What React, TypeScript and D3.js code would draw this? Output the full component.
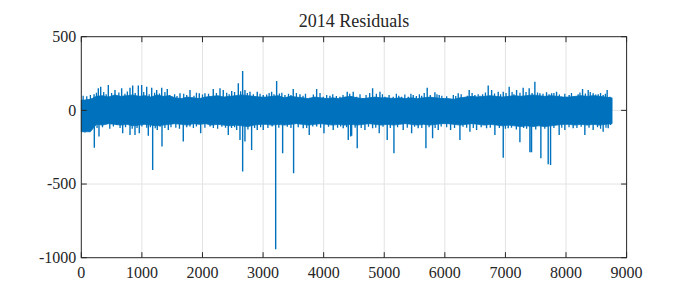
import React from "react";
import * as d3 from "d3";

// ---- data ----
const title = "2014 Residuals";
const xTicks = [0, 1000, 2000, 3000, 4000, 5000, 6000, 7000, 8000, 9000];
const yTicks = [-1000, -500, 0, 500];
const lastHour = 8760;

// dense core of the residual band, per 100-hour bin (bin start hours)
const binStart = d3.range(0, 8800, 100);
const coreHigh = [
  70, 75, 95, 100, 90, 105, 95, 100, 105, 95,
  100, 90, 105, 95, 100, 85, 80, 90, 85, 80,
  90, 95, 100, 90, 95, 100, 105, 100, 95, 90,
  90, 95, 100, 85, 95, 90, 85, 80, 90, 85,
  80, 85, 80, 90, 95, 85, 80, 85, 90, 85,
  85, 80, 85, 80, 85, 80, 85, 90, 85, 80,
  80, 75, 85, 90, 95, 90, 95, 100, 95, 90,
  95, 100, 95, 100, 105, 100, 95, 100, 95, 90,
  90, 95, 100, 95, 100, 95, 90, 85,
];
const coreLow = [
  -145, -145, -95, -100, -90, -95, -100, -95, -105, -100,
  -95, -100, -105, -100, -95, -90, -95, -100, -90, -95,
  -90, -100, -95, -100, -105, -100, -105, -110, -100, -95,
  -95, -100, -95, -100, -95, -90, -95, -100, -95, -90,
  -95, -100, -95, -100, -95, -100, -95, -90, -95, -100,
  -95, -100, -95, -90, -95, -100, -95, -100, -95, -90,
  -90, -95, -100, -95, -90, -95, -100, -95, -100, -105,
  -100, -105, -110, -105, -110, -105, -110, -105, -100, -95,
  -95, -100, -95, -100, -95, -100, -95, -90,
];

// prominent spikes [hour, residual]
const positiveSpikes: [number, number][] = [
  [211, 109], [281, 150], [320, 161], [446, 172], [556, 138], [666, 150], [804, 154], [848, 168], [941, 168], [996, 172],
  [1079, 161], [1162, 154], [1244, 138], [1327, 154], [1419, 145], [1491, 93], [1629, 116], [1794, 138], [1947, 116], [2041, 116],
  [2178, 145], [2289, 150], [2343, 138], [2482, 132], [2591, 184], [2663, 267], [2701, 138], [2784, 127], [2904, 127], [3003, 104],
  [3141, 127], [3224, 200], [3361, 104], [3498, 145], [3609, 109], [3773, 86], [3884, 145], [3993, 93], [4104, 100], [4269, 93],
  [4389, 127], [4488, 127], [4544, 93], [4653, 82], [4808, 150], [4929, 127], [5011, 93], [5148, 93], [5287, 93], [5396, 93],
  [5478, 104], [5617, 100], [5709, 154], [5836, 123], [5907, 104], [5973, 82], [6084, 70], [6221, 116], [6331, 82], [6402, 138],
  [6496, 104], [6623, 109], [6716, 168], [6772, 138], [6881, 127], [6964, 127], [7062, 161], [7184, 138], [7293, 154], [7392, 150],
  [7486, 195], [7569, 116], [7679, 123], [7762, 116], [7844, 127], [7927, 93], [8052, 104], [8146, 93], [8273, 145], [8366, 138],
  [8448, 116], [8531, 109], [8613, 104], [8679, 138], [8723, 93],
];
const negativeSpikes: [number, number][] = [
  [215, -253], [292, -178], [419, -88], [584, -99], [683, -155], [804, -167], [886, -167], [957, -155], [1035, -88], [1106, -172],
  [1178, -405], [1254, -133], [1332, -246], [1436, -133], [1683, -212], [1794, -110], [1970, -155], [2124, -110], [2426, -167], [2564, -133],
  [2619, -201], [2663, -415], [2701, -212], [2811, -269], [2904, -133], [3003, -133], [3208, -943], [3323, -291], [3504, -427], [3663, -121],
  [3762, -167], [3884, -110], [4005, -155], [4158, -133], [4323, -121], [4406, -201], [4445, -178], [4462, -172], [4554, -257], [4681, -133],
  [4808, -121], [4917, -155], [5049, -201], [5160, -291], [5313, -133], [5452, -155], [5560, -121], [5688, -257], [5798, -189], [5891, -133],
  [6095, -133], [6249, -201], [6414, -145], [6524, -133], [6689, -121], [6826, -167], [6964, -321], [7046, -121], [7239, -217], [7404, -285],
  [7431, -285], [7585, -325], [7706, -366], [7745, -371], [7887, -167], [7981, -133], [8118, -121], [8311, -167], [8448, -133], [8613, -145],
  [8696, -121], [8735, -99],
];

// smaller jagged excursions along the band edges [hour, residual]
const minorUp: [number, number][] = [
  [30, 100], [90, 95], [150, 105], [250, 120], [370, 125], [410, 110], [500, 118], [620, 122], [720, 112], [760, 128],
  [890, 118], [1030, 125], [1120, 110], [1210, 120], [1290, 115], [1380, 125], [1460, 105], [1540, 110], [1580, 98], [1690, 112],
  [1740, 105], [1860, 100], [1900, 120], [2000, 108], [2100, 112], [2230, 118], [2400, 120], [2440, 110], [2530, 125], [2630, 130],
  [2740, 118], [2840, 110], [2950, 112], [3060, 108], [3100, 118], [3180, 110], [3270, 115], [3310, 120], [3420, 112], [3460, 105],
  [3550, 118], [3660, 100], [3700, 112], [3830, 108], [3940, 118], [4050, 105], [4150, 110], [4210, 98], [4320, 105], [4430, 112],
  [4600, 110], [4700, 105], [4760, 118], [4870, 112], [4970, 110], [5080, 105], [5200, 112], [5240, 100], [5340, 108], [5440, 112],
  [5530, 98], [5580, 110], [5660, 118], [5760, 105], [5870, 110], [5950, 100], [6030, 95], [6140, 105], [6180, 98], [6270, 110],
  [6370, 100], [6450, 118], [6550, 110], [6580, 100], [6670, 122], [6820, 115], [6920, 110], [7010, 118], [7110, 125], [7140, 110],
  [7240, 120], [7340, 125], [7440, 118], [7530, 122], [7620, 112], [7720, 110], [7800, 118], [7890, 108], [7980, 112], [8090, 118],
  [8200, 110], [8230, 122], [8320, 115], [8400, 125], [8490, 108], [8570, 118], [8650, 112], [8750, 80],
];
const minorDown: [number, number][] = [
  [60, -150], [130, -145], [260, -120], [350, -115], [470, -125], [530, -110], [640, -120], [730, -115], [840, -125], [920, -120],
  [1000, -110], [1080, -118], [1140, -115], [1220, -122], [1300, -112], [1380, -120], [1480, -115], [1560, -118], [1620, -125], [1740, -115],
  [1850, -120], [1900, -110], [2040, -118], [2180, -120], [2250, -125], [2320, -112], [2380, -118], [2480, -120], [2530, -115], [2750, -130],
  [2860, -120], [2960, -115], [3080, -120], [3150, -110], [3260, -118], [3400, -112], [3460, -120], [3580, -115], [3720, -120], [3820, -110],
  [3950, -118], [4080, -112], [4230, -118], [4280, -110], [4380, -115], [4520, -118], [4620, -120], [4740, -112], [4860, -118], [4980, -112],
  [5100, -120], [5220, -115], [5380, -118], [5500, -112], [5620, -120], [5740, -115], [5840, -120], [5940, -110], [6030, -115], [6160, -120],
  [6300, -112], [6360, -118], [6470, -120], [6600, -115], [6750, -118], [6900, -120], [7000, -125], [7100, -118], [7180, -130], [7300, -120],
  [7350, -125], [7500, -130], [7650, -125], [7800, -120], [7930, -118], [8050, -115], [8180, -120], [8250, -112], [8380, -118], [8520, -115],
  [8570, -125], [8660, -118],
];

// ---- layout ----
const W = 675, H = 288;
const left = 81.3, right = 626.6, top = 36.7, bottom = 257.7;
const BLUE = "#0072BD";
const AX = "#262626";
const GRID = "#e3e3e3";
const FONT = "\"Liberation Serif\", \"DejaVu Serif\", serif";

export default function App() {
  const x = d3.scaleLinear().domain([0, 9000]).range([left, right]);
  const y = d3.scaleLinear().domain([-1000, 500]).range([bottom, top]);

  const core = binStart.map((h, i) => ({ h: h + 50, hi: coreHigh[i], lo: coreLow[i] }));
  core.unshift({ h: 0, hi: coreHigh[0], lo: coreLow[0] });
  core.push({ h: lastHour, hi: coreHigh[coreHigh.length - 1], lo: coreLow[coreLow.length - 1] });
  const area = d3
    .area<{ h: number; hi: number; lo: number }>()
    .x((d) => x(d.h))
    .y0((d) => y(d.lo))
    .y1((d) => y(d.hi))
    .curve(d3.curveLinear);

  const toPath = (list: [number, number][]) =>
    list.map(([h, v]) => `M${x(h).toFixed(2)},${y(0).toFixed(2)}V${y(v).toFixed(2)}`).join("");

  const tick = 5.5;
  const textStyle = { fontFamily: FONT };

  return (
    <svg width={W} height={H} style={{ position: "fixed", left: 0, top: 0, background: "#fff" }}>
      <rect width={W} height={H} fill="#fff" />
      <g stroke={GRID} strokeWidth={1}>
        {xTicks.slice(1, -1).map((t) => (
          <line key={"gx" + t} x1={x(t)} x2={x(t)} y1={top} y2={bottom} />
        ))}
        {yTicks.slice(1, -1).map((t) => (
          <line key={"gy" + t} x1={left} x2={right} y1={y(t)} y2={y(t)} />
        ))}
      </g>
      <path d={area(core) || ""} fill={BLUE} stroke={BLUE} strokeWidth={0.8} />
      <path d={toPath([...minorUp, ...minorDown])} stroke={BLUE} strokeWidth={1.3} fill="none" />
      <path d={toPath([...positiveSpikes, ...negativeSpikes])} stroke={BLUE} strokeWidth={1.4} fill="none" />
      <g stroke={AX} strokeWidth={1} fill="none">
        <rect x={left} y={top} width={right - left} height={bottom - top} />
        {xTicks.map((t) => (
          <g key={"tx" + t}>
            <line x1={x(t)} x2={x(t)} y1={bottom} y2={bottom - tick} />
            <line x1={x(t)} x2={x(t)} y1={top} y2={top + tick} />
          </g>
        ))}
        {yTicks.map((t) => (
          <g key={"ty" + t}>
            <line x1={left} x2={left + tick} y1={y(t)} y2={y(t)} />
            <line x1={right} x2={right - tick} y1={y(t)} y2={y(t)} />
          </g>
        ))}
      </g>
      <g fill={AX} fontSize={16} style={textStyle}>
        {xTicks.map((t) => (
          <text key={"lx" + t} x={x(t)} y={bottom + 20.5} textAnchor="middle" style={textStyle}>
            {String(t)}
          </text>
        ))}
        {yTicks.map((t) => (
          <text key={"ly" + t} x={left - 5} y={y(t) + 5.3} textAnchor="end" style={textStyle}>
            {t < 0 ? "-" + Math.abs(t) : String(t)}
          </text>
        ))}
        <text x={(left + right) / 2} y={26.5} textAnchor="middle" fontSize={18} style={textStyle}>
          {title}
        </text>
      </g>
    </svg>
  );
}
